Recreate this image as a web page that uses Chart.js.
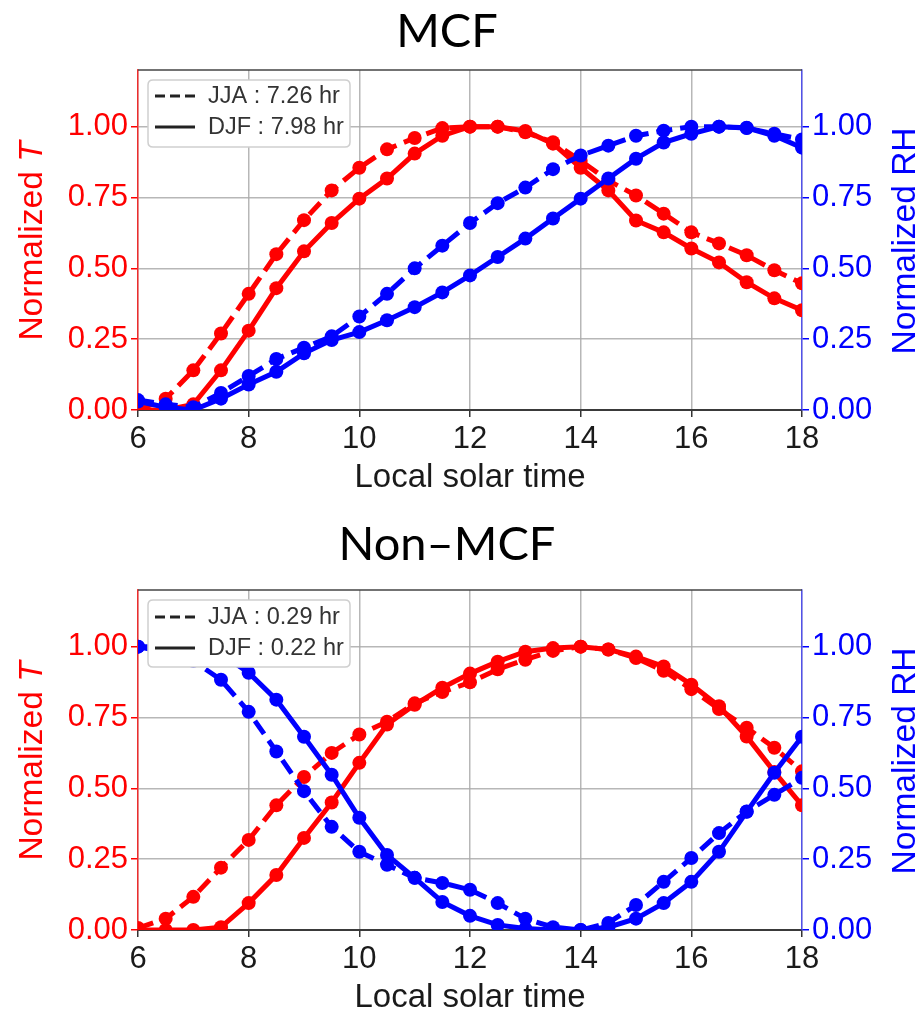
<!DOCTYPE html>
<html><head><meta charset="utf-8">
<script src="https://cdn.jsdelivr.net/npm/chart.js@4.4.1/dist/chart.umd.min.js"></script>
<style>
html,body{margin:0;padding:0;background:#fff;width:920px;height:1010px;overflow:hidden}
.w{position:absolute;left:0;width:920px;height:505px}
</style></head>
<body>
<div class="w" style="top:0"><canvas id="c1" width="920" height="505"></canvas></div>
<div class="w" style="top:505px"><canvas id="c2" width="920" height="505"></canvas></div>
<script>
// ---- data ----
const hours = [6,6.5,7,7.5,8,8.5,9,9.5,10,10.5,11,11.5,12,12.5,13,13.5,14,14.5,15,15.5,16,16.5,17,17.5,18];
const xTicks = [6,8,10,12,14,16,18];
const yTicks = [0,0.25,0.5,0.75,1.0];

// MCF
const mcfTempJJA = [0.0,0.04,0.14,0.27,0.41,0.55,0.67,0.775,0.855,0.92,0.96,0.995,1.0,1.0,0.98,0.945,0.88,0.81,0.757,0.693,0.627,0.588,0.546,0.493,0.447];
const mcfTempDJF = [0.0,0.0,0.02,0.14,0.28,0.43,0.56,0.66,0.746,0.817,0.905,0.968,1.0,1.0,0.985,0.94,0.855,0.775,0.669,0.627,0.57,0.521,0.451,0.394,0.352];
const mcfRhJJA   = [0.035,0.02,0.01,0.06,0.12,0.18,0.22,0.26,0.33,0.41,0.5,0.58,0.66,0.73,0.785,0.85,0.898,0.933,0.968,0.986,1.0,1.0,0.995,0.975,0.955];
const mcfRhDJF   = [0.03,0.01,0.0,0.04,0.09,0.135,0.2,0.247,0.275,0.317,0.363,0.415,0.475,0.54,0.605,0.676,0.746,0.817,0.887,0.944,0.975,1.0,0.996,0.968,0.926];
const mcfLegend  = ['JJA : 7.26 hr','DJF : 7.98 hr'];

// Non-MCF
const nonTempJJA = [0.007,0.04,0.117,0.22,0.318,0.44,0.54,0.625,0.69,0.735,0.8,0.84,0.874,0.92,0.954,0.985,1.0,0.99,0.96,0.915,0.85,0.78,0.714,0.643,0.56];
const nonTempDJF = [0.0,0.0,0.0,0.01,0.095,0.194,0.325,0.45,0.59,0.725,0.795,0.855,0.905,0.947,0.982,0.995,1.0,0.99,0.965,0.93,0.866,0.79,0.683,0.558,0.44];
const nonRhJJA   = [1.0,0.98,0.95,0.883,0.77,0.63,0.49,0.364,0.276,0.23,0.184,0.166,0.142,0.095,0.04,0.01,0.0,0.025,0.088,0.17,0.254,0.342,0.418,0.477,0.537];
const nonRhDJF   = [1.0,1.0,0.995,0.975,0.908,0.813,0.682,0.548,0.396,0.265,0.184,0.099,0.05,0.018,0.005,0.0,0.0,0.01,0.04,0.095,0.17,0.276,0.417,0.555,0.682];
const nonLegend  = ['JJA : 0.29 hr','DJF : 0.22 hr'];

const titles = ['MCF','Non\u2013MCF'];
const xTitle = 'Local solar time';

// ---- styling ----
const RED = '#ff0000', BLUE = '#0000ff';
const SANS = '"Liberation Sans", Arial, sans-serif';
const GRID = 'rgba(170,170,170,0.85)';

function pts(arr){ return hours.map((h,i)=>({x:h,y:arr[i]})); }

function ds(arr, color, dashed, axis){
  return {
    data: pts(arr), yAxisID: axis,
    borderColor: color, backgroundColor: color,
    borderWidth: 5, borderDash: dashed ? [16,8] : [],
    pointRadius: 7, pointHoverRadius: 7, pointBorderWidth: 0,
    pointBackgroundColor: color, pointBorderColor: color,
    tension: 0, fill: false, clip: 0
  };
}

const deco = {
  id: 'deco',
  afterDraw(chart, args, o) {
    const ctx = chart.ctx, a = chart.chartArea;
    ctx.save();
    // top frame
    ctx.strokeStyle = '#444'; ctx.lineWidth = 1.5;
    ctx.beginPath(); ctx.moveTo(a.left, a.top); ctx.lineTo(a.right, a.top); ctx.stroke();
    // legend
    const bx = 148, by = a.top + 10, bw = 202, bh = 67, r = 5;
    ctx.beginPath();
    ctx.moveTo(bx+r,by); ctx.lineTo(bx+bw-r,by); ctx.quadraticCurveTo(bx+bw,by,bx+bw,by+r);
    ctx.lineTo(bx+bw,by+bh-r); ctx.quadraticCurveTo(bx+bw,by+bh,bx+bw-r,by+bh);
    ctx.lineTo(bx+r,by+bh); ctx.quadraticCurveTo(bx,by+bh,bx,by+bh-r);
    ctx.lineTo(bx,by+r); ctx.quadraticCurveTo(bx,by,bx+r,by); ctx.closePath();
    ctx.fillStyle = '#ffffff'; ctx.fill();
    ctx.strokeStyle = '#cfcfcf'; ctx.lineWidth = 1.5; ctx.stroke();
    const rows = [by + o.row1, by + o.row2];
    ctx.strokeStyle = '#222'; ctx.lineWidth = 3;
    ctx.setLineDash([10,5]);
    ctx.beginPath(); ctx.moveTo(155, rows[0]); ctx.lineTo(195, rows[0]); ctx.stroke();
    ctx.setLineDash([]);
    ctx.beginPath(); ctx.moveTo(155, rows[1]); ctx.lineTo(195, rows[1]); ctx.stroke();
    ctx.fillStyle = '#333'; ctx.font = '23.5px ' + SANS;
    ctx.textAlign = 'left'; ctx.textBaseline = 'middle';
    ctx.fillText(o.legend[0], 208, rows[0] + 1);
    ctx.fillText(o.legend[1], 208, rows[1] + 1);
    // chart title
    ctx.fillStyle = '#000'; ctx.font = '47px Lato, "Open Sans", sans-serif';
    ctx.textAlign = 'center'; ctx.textBaseline = 'alphabetic';
    ctx.fillText(o.title, 447, o.titleBase);
    // x title
    ctx.fillStyle = '#1a1a1a'; ctx.font = '33px ' + SANS;
    ctx.fillText(xTitle, (a.left + a.right) / 2, a.bottom + 77);
    // left y title: "Normalized " + italic T
    const F = 33.5;
    ctx.font = F + 'px ' + SANS;
    const p1 = 'Normalized ';
    const w1 = ctx.measureText(p1).width;
    ctx.font = 'italic ' + F + 'px ' + SANS;
    const w2 = ctx.measureText('T').width;
    ctx.save();
    ctx.translate(42, a.top + 171); ctx.rotate(-Math.PI/2);
    ctx.fillStyle = RED; ctx.textAlign = 'left'; ctx.textBaseline = 'alphabetic';
    const sx = -(w1 + w2) / 2;
    ctx.font = F + 'px ' + SANS; ctx.fillText(p1, sx, 0);
    ctx.font = 'italic ' + F + 'px ' + SANS; ctx.fillText('T', sx + w1, 0);
    ctx.restore();
    // right y title
    ctx.save();
    ctx.translate(915, a.top + 171); ctx.rotate(-Math.PI/2);
    ctx.fillStyle = BLUE; ctx.textAlign = 'center'; ctx.textBaseline = 'alphabetic';
    ctx.font = F + 'px ' + SANS; ctx.fillText('Normalized RH', 0, 0);
    ctx.restore();
    ctx.restore();
  }
};

function makeChart(id, d) {
  const yScale = (pos, color) => ({
    type: 'linear', position: pos, min: 0, max: 1.2,
    afterBuildTicks: s => { s.ticks = yTicks.map(v => ({value: v})); },
    afterFit: s => { s.width = pos === 'left' ? 138 : 118; },
    ticks: { color: color, font: {family: SANS, size: 31}, padding: 3,
             callback: v => Number(v).toFixed(2) },
    grid: { display: true, drawOnChartArea: pos === 'left', color: GRID, lineWidth: 1.5,
            tickColor: color, tickLength: 7, tickWidth: 1.5 },
    border: { display: true, color: pos === 'left' ? 'rgba(255,0,0,0.75)' : 'rgba(40,40,255,0.7)', width: 1.5 },
    title: { display: false }
  });
  return new Chart(document.getElementById(id), {
    type: 'line',
    data: { datasets: [
      ds(d.rhDJF, BLUE, false, 'y1'),
      ds(d.rhJJA, BLUE, true, 'y1'),
      ds(d.tDJF, RED, false, 'y'),
      ds(d.tJJA, RED, true, 'y')
    ]},
    options: {
      responsive: false, animation: false, devicePixelRatio: 1,
      layout: { padding: { top: d.top, left: 0, right: 0, bottom: 0 } },
      plugins: { legend: {display: false}, tooltip: {enabled: false}, title: {display: false},
                 deco: { legend: d.legend, title: d.title, titleBase: d.titleBase, row1: d.row1, row2: d.row2 } },
      scales: {
        x: {
          type: 'linear', position: 'bottom', min: 6, max: 18,
          afterBuildTicks: s => { s.ticks = xTicks.map(v => ({value: v})); },
          afterFit: s => { s.height = d.xh; },
          ticks: { color: '#1a1a1a', font: {family: SANS, size: 31}, padding: 4, maxRotation: 0, autoSkip: false },
          grid: { color: GRID, lineWidth: 1.5, tickColor: '#333', tickLength: 7, tickWidth: 1.5 },
          border: { display: true, color: '#3a3a3a', width: 2 }
        },
        y: yScale('left', RED),
        y1: yScale('right', BLUE)
      }
    },
    plugins: [deco]
  });
}

makeChart('c1', { tJJA: mcfTempJJA, tDJF: mcfTempDJF, rhJJA: mcfRhJJA, rhDJF: mcfRhDJF,
  legend: mcfLegend, title: titles[0], titleBase: 47, top: 70, xh: 95, row1: 16, row2: 47 });
makeChart('c2', { tJJA: nonTempJJA, tDJF: nonTempDJF, rhJJA: nonRhJJA, rhDJF: nonRhDJF,
  legend: nonLegend, title: titles[1], titleBase: 55, top: 85, xh: 80, row1: 17, row2: 48 });
</script>
</body></html>
